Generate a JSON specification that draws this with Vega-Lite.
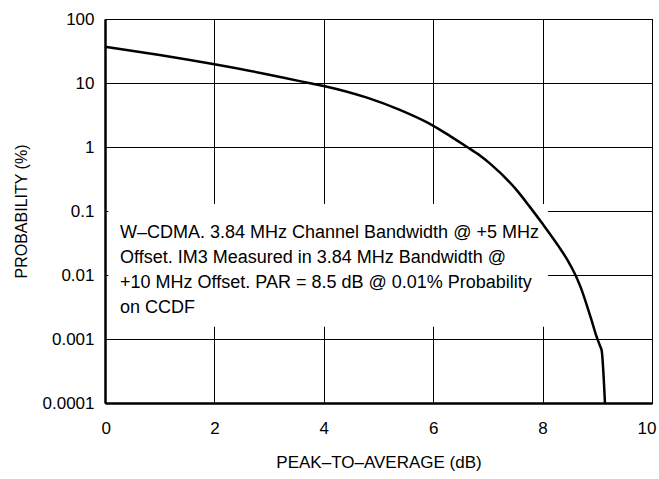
{
  "$schema": "https://vega.github.io/schema/vega-lite/v6.json",
  "width": 547,
  "height": 384,
  "autosize": "none",
  "padding": {"left": 105, "top": 19, "right": 7, "bottom": 76},
  "background": "white",
  "config": {
    "view": {"stroke": "black", "strokeWidth": 1},
    "font": "Liberation Sans, Arial, sans-serif",
    "axis": {
      "labelFont": "Liberation Sans, Arial, sans-serif",
      "titleFont": "Liberation Sans, Arial, sans-serif",
      "labelColor": "black",
      "titleColor": "black",
      "labelFontSize": 17,
      "titleFontWeight": "normal",
      "gridColor": "black",
      "gridOpacity": 1,
      "gridWidth": 1,
      "domainColor": "black",
      "domainWidth": 2.5,
      "ticks": false
    }
  },
  "datasets": {
    "ccdf": [
      {"par": 0.0, "prob": 36.9},
      {"par": 1.0, "prob": 27.4},
      {"par": 2.0, "prob": 19.6},
      {"par": 3.0, "prob": 13.5},
      {"par": 3.56, "prob": 10.7},
      {"par": 4.0, "prob": 9.0},
      {"par": 4.79, "prob": 5.9},
      {"par": 5.39, "prob": 3.8},
      {"par": 5.98, "prob": 2.2},
      {"par": 6.31, "prob": 1.48},
      {"par": 6.62, "prob": 1.0},
      {"par": 6.86, "prob": 0.73},
      {"par": 7.04, "prob": 0.55},
      {"par": 7.53, "prob": 0.21},
      {"par": 7.77, "prob": 0.115},
      {"par": 8.0, "prob": 0.063},
      {"par": 8.3, "prob": 0.0275},
      {"par": 8.45, "prob": 0.0174},
      {"par": 8.6, "prob": 0.01},
      {"par": 8.7, "prob": 0.0063},
      {"par": 8.8, "prob": 0.00355},
      {"par": 8.9, "prob": 0.0019},
      {"par": 8.99, "prob": 0.00107},
      {"par": 9.05, "prob": 0.00078},
      {"par": 9.08, "prob": 0.00066},
      {"par": 9.14, "prob": 0.0001}
    ]
  },
  "layer": [
    {
      "data": {"name": "ccdf"},
      "mark": {"type": "line", "opacity": 0},
      "encoding": {
        "x": {
          "field": "par", "type": "quantitative",
          "scale": {"domain": [0, 10], "nice": false, "zero": false},
          "axis": {"values": [0, 2, 4, 6, 8, 10], "title": "PEAK–TO–AVERAGE (dB)", "titleFontSize": 17, "labelPadding": 17.5, "titlePadding": 18, "labelFlush": true, "labelFlushOffset": 4}
        },
        "y": {
          "field": "prob", "type": "quantitative",
          "scale": {"type": "log", "domain": [0.0001, 100], "nice": false},
          "axis": {"values": [0.0001, 0.001, 0.01, 0.1, 1, 10, 100], "format": "~g", "title": "PROBABILITY (%)", "titleFontSize": 16, "labelPadding": 11, "titlePadding": 13, "labelFlush": false}
        }
      }
    },
    {
      "data": {"values": [{}]},
      "mark": {"type": "rect", "fill": "white", "stroke": null},
      "encoding": {
        "x": {"datum": 0.06, "type": "quantitative"},
        "x2": {"datum": 8.1},
        "y": {"datum": 0.129, "type": "quantitative"},
        "y2": {"datum": 0.00155}
      }
    },
    {
      "data": {"values": [{}]},
      "mark": {
        "type": "text",
        "align": "left",
        "baseline": "alphabetic",
        "font": "Liberation Sans, Arial, sans-serif",
        "fontSize": 18,
        "lineHeight": 25,
        "color": "black",
        "text": [
          "W–CDMA. 3.84 MHz Channel Bandwidth @ +5 MHz",
          "Offset. IM3 Measured in 3.84 MHz Bandwidth @",
          "+10 MHz Offset. PAR = 8.5 dB @ 0.01% Probability",
          "on CCDF"
        ]
      },
      "encoding": {
        "x": {"datum": 0.274, "type": "quantitative"},
        "y": {"datum": 0.0383, "type": "quantitative"}
      }
    },
    {
      "data": {"name": "ccdf"},
      "mark": {"type": "line", "color": "black", "strokeWidth": 2.5, "interpolate": "monotone"},
      "encoding": {
        "x": {"field": "par", "type": "quantitative"},
        "y": {"field": "prob", "type": "quantitative"}
      }
    }
  ]
}
